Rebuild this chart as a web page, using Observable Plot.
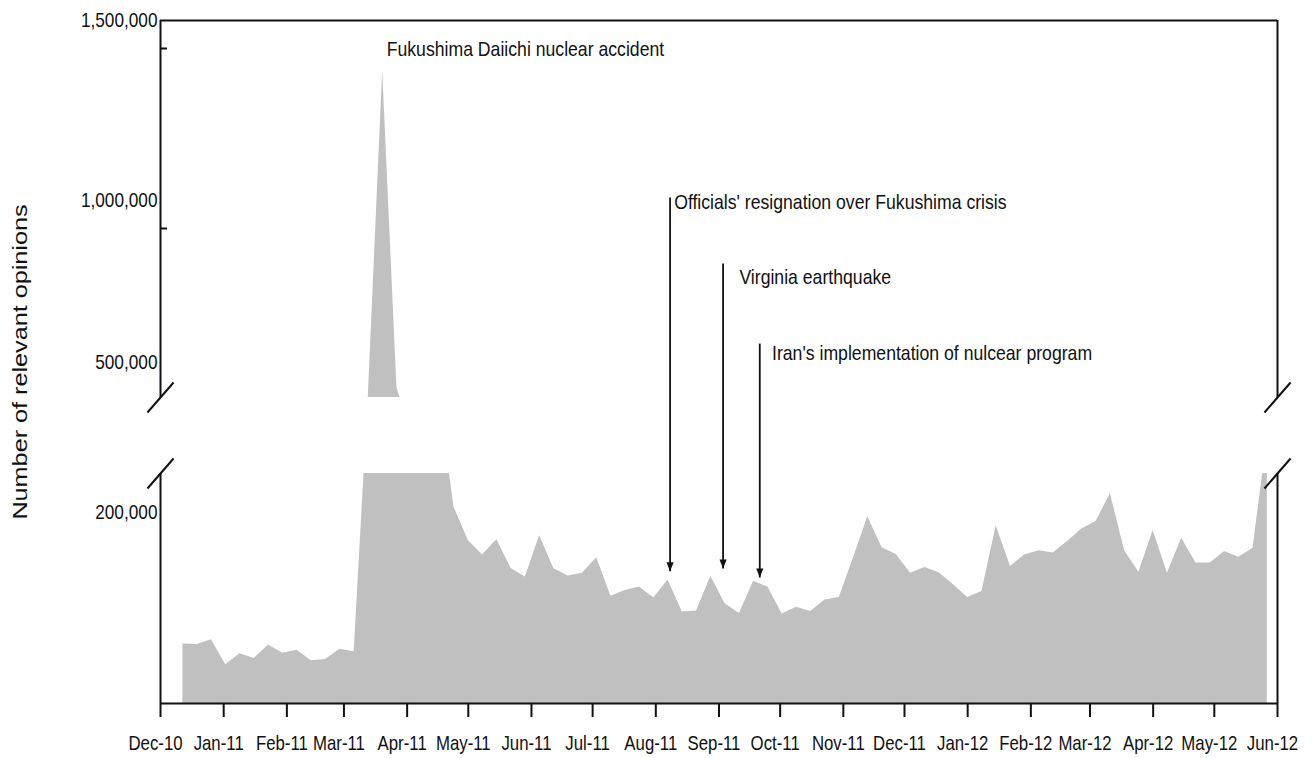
<!DOCTYPE html>
<html>
<head>
<meta charset="utf-8">
<script src="https://cdn.jsdelivr.net/npm/d3@7"></script>
<script src="https://cdn.jsdelivr.net/npm/@observablehq/plot@0.6"></script>
<style>
  html, body { margin: 0; padding: 0; background: #fff; }
  #chart { width: 1315px; height: 758px; }
</style>
</head>
<body>
<div id="chart"></div>
<script>
// ---------------- data ----------------
const firstWeek = "2010-12-12";           // first weekly observation
const weeklyOpinions = [
  62000, 61500, 66500, 40500, 52000, 47000, 61000, 52500, 55500, 44500,
  46000, 56500, 54000, 400000, 1360000, 420000, 320000, 300000, 380000, 205000,
  170000, 155000, 171000, 141000, 132000, 175000, 140500, 133000, 136000, 152000,
  112000, 118000, 121500, 110000, 129000, 95500, 96500, 132500, 104000, 94000,
  127500, 121500, 93500, 100500, 96000, 108000, 110500, 152000, 195000, 162500,
  155500, 136000, 142000, 136500, 124000, 110500, 117000, 185500, 143000, 155000,
  159500, 157000, 169000, 182000, 190000, 219000, 159500, 137000, 180500, 136000,
  172500, 146500, 146500, 158500, 152500, 162000, 310000
];
const monthTickLabels = ["Dec-10","Jan-11","Feb-11","Mar-11","Apr-11","May-11","Jun-11","Jul-11",
  "Aug-11","Sep-11","Oct-11","Nov-11","Dec-11","Jan-12","Feb-12","Mar-12","Apr-12","May-12","Jun-12"];
const yTickValues = [200000, 500000, 1000000, 1500000];
const upperTickValues = [1000000, 1500000];
const axisBreaks = [240000, 390000];      // top of lower panel, bottom of upper panel
const yTop = 1500000;
const peakLabel = "Fukushima Daiichi nuclear accident";
const yTitle = "Number of relevant opinions";

const eventLabels = ["Officials' resignation over Fukushima crisis", "Virginia earthquake", "Iran's implementation of nulcear program"];
const eventDates = ["2011-08-08", "2011-09-03", "2011-09-21"];
const eventArrowTop = [1008000, 805000, 557000];
const eventArrowTip = [138000, 141000, 131500];
const eventTextDates = ["2011-08-10", "2011-09-11", "2011-09-27"];
const eventTextValues = [994000, 762000, 526000];

// ---------------- build ----------------
const parseDay = d3.utcParse("%Y-%m-%d");
const parseMonth = d3.utcParse("%b-%y");
const start = parseDay(firstWeek);
const series = weeklyOpinions.map((value, i) => ({date: d3.utcDay.offset(start, 7 * i), value}));
const monthTicks = monthTickLabels.map(parseMonth);
const xStart = monthTicks[0], xEnd = monthTicks[monthTicks.length - 1];
const peak = series.reduce((a, b) => (b.value > a.value ? b : a));
const events = eventLabels.map((label, i) => ({
  label, date: parseDay(eventDates[i]), top: eventArrowTop[i], tip: eventArrowTip[i],
  textDate: parseDay(eventTextDates[i]), textValue: eventTextValues[i]
}));
const breakMarks = [xStart, xEnd].flatMap(x => axisBreaks.map(y => ({x, y})));

// custom symbols
const slash = {draw(ctx, size) { const r = Math.sqrt(size / Math.PI); ctx.moveTo(-0.87 * r, r); ctx.lineTo(0.87 * r, -r); }};
const headDown = {draw(ctx, size) { const r = Math.sqrt(size / Math.PI); ctx.moveTo(0, 0); ctx.lineTo(-0.8 * r, -2 * r); ctx.lineTo(0.8 * r, -2 * r); ctx.closePath(); }};

const ink = "#111";
const chart = Plot.plot({
  width: 1315,
  height: 758,
  marginLeft: 160,
  marginRight: 38,
  marginTop: 20,
  marginBottom: 55,
  style: {fontFamily: "'Liberation Sans', Arial, sans-serif", fontSize: "21px", color: ink, background: "#fff", overflow: "visible"},
  x: {type: "utc", domain: [xStart, xEnd], axis: null},
  y: {type: "linear", domain: [0, axisBreaks[0], axisBreaks[1], 1000000, yTop], range: [703, 473, 397, 200, 20], axis: null},
  marks: [
    Plot.areaY(series, {x: "date", y: "value", fill: "#c0c0c0"}),
    // blank band for the axis break
    Plot.rect([0], {x1: () => xStart, x2: () => xEnd, y1: () => axisBreaks[0], y2: () => axisBreaks[1], fill: "white"}),
    // frame pieces
    Plot.ruleX([xStart, xEnd], {y1: 0, y2: axisBreaks[0], stroke: ink, strokeWidth: 2}),
    Plot.ruleX([xStart, xEnd], {y1: axisBreaks[1], y2: yTop, stroke: ink, strokeWidth: 2}),
    Plot.ruleY([0, yTop], {stroke: ink, strokeWidth: 2}),
    Plot.dot(breakMarks, {x: "x", y: "y", symbol: slash, r: 15, stroke: ink, fill: "none", strokeWidth: 2}),
    // axes
    Plot.axisX(monthTicks, {tickSize: 14, fill: "none", stroke: ink, strokeWidth: 2, label: null}),
    Plot.axisX(monthTicks, {tickSize: 0, tickPadding: 32, dx: -5, tickFormat: d3.utcFormat("%b-%y"), label: null}),
    Plot.axisY(yTickValues, {tickSize: 0, tickPadding: 3, tickFormat: d3.format(","), label: null}),
    Plot.axisY(upperTickValues, {tickSize: 7, dx: 7, dy: 28, fill: "none", stroke: ink, strokeWidth: 2, label: null}),
    // annotations
    Plot.text([peak], {x: "date", y: "value", text: () => peakLabel, dx: 4, dy: -22, textAnchor: "start", fill: ink}),
    Plot.link(events, {x1: "date", x2: "date", y1: "top", y2: "tip", stroke: ink, strokeWidth: 1.8}),
    Plot.dot(events, {x: "date", y: "tip", symbol: headDown, r: 4.5, fill: ink, stroke: "none"}),
    Plot.text(events, {x: "textDate", y: "textValue", text: "label", textAnchor: "start", fill: ink}),
    Plot.text([yTitle], {frameAnchor: "left", dx: -140, rotate: -90, textAnchor: "middle", fill: ink})
  ]
});
document.getElementById("chart").appendChild(chart);
// condensed lettering (as in the reference): squeeze each text horizontally;
// the rotated title is stretched along its length instead
const annotationTexts = new Set([peakLabel, ...eventLabels]);
const monthTexts = new Set(monthTickLabels);
chart.querySelectorAll("text").forEach(t => {
  const w = t.getComputedTextLength();
  if (!w) return;
  const s = t.textContent;
  const k = s === yTitle ? 1.2 : annotationTexts.has(s) ? 0.84 : monthTexts.has(s) ? 0.8 : 0.82;
  t.setAttribute("textLength", (w * k).toFixed(1));
  t.setAttribute("lengthAdjust", "spacingAndGlyphs");
});
</script>
</body>
</html>
